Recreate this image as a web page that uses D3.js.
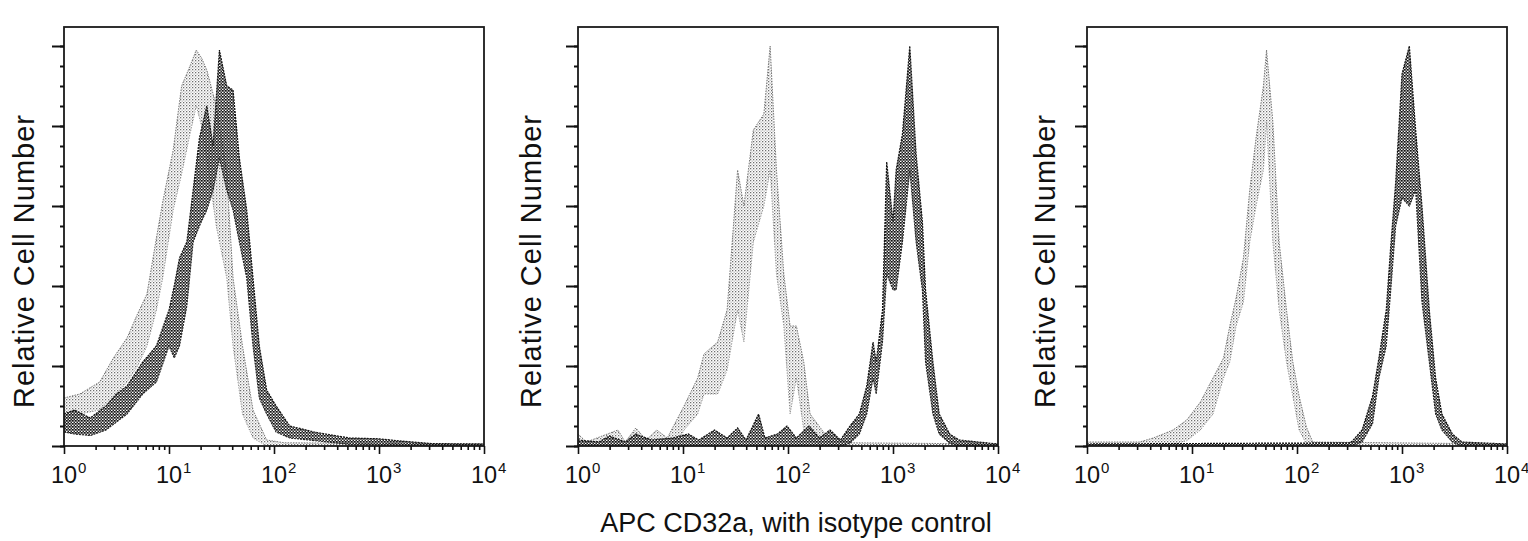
<!DOCTYPE html>
<html>
<head>
<meta charset="utf-8">
<script src="https://cdn.jsdelivr.net/npm/d3@7"></script>
<style>
  html, body { margin: 0; padding: 0; background: #fff; }
  svg { display: block; }
  text { font-family: "Liberation Sans", Arial, Helvetica, sans-serif; fill: #111; }
</style>
</head>
<body>
<svg id="chart" width="1528" height="541"></svg>
<script>
// ---------------- DATA (x = log10 fluorescence, lo/hi = band of relative cell number, 0-100) -------------
const decadeExponents = [0, 1, 2, 3, 4];
const decadeLabels = ["10", "10", "10", "10", "10"];
const superscripts = ["0", "1", "2", "3", "4"];
const yTickValues = [0, 20, 40, 60, 80, 100];
const yLabel = "Relative Cell Number";
const xTitle = "APC CD32a, with isotype control";

// Panel 1
const p1Isotype = [
  [0.00, 5, 12], [0.15, 8, 13], [0.34, 9, 16], [0.47, 12, 22], [0.60, 16, 27], [0.70, 20, 33],
  [0.79, 25, 38], [0.88, 34, 52], [0.94, 42, 61], [1.04, 59, 74], [1.12, 68, 90], [1.20, 78, 95],
  [1.26, 85, 99], [1.31, 80, 97], [1.36, 72, 94], [1.45, 55, 85], [1.55, 42, 68], [1.61, 25, 42],
  [1.70, 8, 25], [1.80, 2, 9], [1.93, 0, 1.5], [2.10, 0, 0.8], [4.00, 0, 0.5]
];
const p1Stained = [
  [0.00, 3.5, 8], [0.10, 3, 9], [0.25, 2.6, 7], [0.40, 4, 10], [0.50, 6, 13], [0.60, 8, 15],
  [0.75, 13, 21], [0.88, 16, 25], [1.00, 25, 34], [1.05, 22, 40], [1.10, 25, 47], [1.17, 35, 51],
  [1.23, 51, 64], [1.29, 55, 77], [1.36, 59, 85], [1.42, 64, 75], [1.48, 72, 99], [1.55, 64, 90],
  [1.61, 59, 89], [1.67, 51, 72], [1.74, 42, 59], [1.80, 25, 42], [1.86, 12, 25], [1.93, 8, 14],
  [2.02, 3.5, 10], [2.15, 2, 5], [2.40, 1.3, 3.4], [2.72, 0.4, 2], [3.00, 0.2, 1.8], [3.19, 0, 1.3],
  [3.50, 0, 0.6], [4.00, 0, 0.5]
];

// Panel 2
const p2Isotype = [
  [0.00, 0, 3], [0.08, 0, 1], [0.38, 0, 4], [0.45, 0, 1], [0.55, 0, 4.5], [0.65, 0, 1.5],
  [0.75, 0, 4], [0.85, 0, 2], [0.95, 1, 7], [1.01, 4, 10], [1.14, 8, 17], [1.20, 13, 23],
  [1.33, 13, 26], [1.42, 19, 34], [1.52, 34, 69], [1.58, 26, 60], [1.67, 51, 79], [1.77, 60, 83],
  [1.83, 69, 100], [1.89, 43, 69], [1.96, 30, 43], [2.02, 8, 30], [2.08, 17, 30], [2.15, 4, 21],
  [2.21, 1.5, 8], [2.37, 0, 2.4], [2.60, 0, 0.8], [4.00, 0, 0.5]
];
const p2Stained = [
  [0.00, 0, 1.5], [0.20, 0, 1], [0.30, 0, 2.5], [0.45, 0, 1], [0.55, 0, 3], [0.70, 0, 1.5],
  [0.90, 0, 2], [1.05, 0, 3], [1.15, 0, 1.5], [1.30, 0, 4], [1.42, 0, 2], [1.52, 0, 4.5],
  [1.60, 0, 1.5], [1.72, 0, 8], [1.78, 0, 2], [1.90, 0, 3], [1.99, 0, 5], [2.08, 0, 2],
  [2.20, 0, 5], [2.30, 0, 2], [2.40, 0, 4], [2.50, 0, 1.5], [2.59, 0.7, 5], [2.68, 3, 8],
  [2.75, 8, 15], [2.81, 17, 26], [2.84, 13, 21], [2.90, 26, 34], [2.94, 43, 71], [3.00, 39, 56],
  [3.03, 39, 69], [3.09, 51, 78], [3.16, 69, 100], [3.22, 51, 73], [3.28, 39, 56], [3.31, 21, 39],
  [3.38, 8, 21], [3.44, 3, 8], [3.54, 0.7, 3], [3.63, 0, 1.5], [4.00, 0, 0.5]
];

// Panel 3
const p3Isotype = [
  [0.00, 0, 1], [0.50, 0, 1], [0.63, 0, 2], [0.82, 0.5, 4], [0.95, 1.3, 6.5], [1.08, 4, 11],
  [1.20, 8, 17], [1.30, 17, 22], [1.36, 21, 30], [1.42, 30, 37], [1.49, 36, 47], [1.55, 51, 64],
  [1.61, 60, 77], [1.68, 69, 90], [1.71, 81, 99], [1.77, 51, 81], [1.83, 34, 51], [1.90, 21, 34],
  [1.96, 12.5, 21], [2.02, 4, 12.5], [2.09, 0.5, 4.7], [2.15, 0, 1], [4.00, 0, 0.5]
];
const p3Stained = [
  [0.00, 0, 0.5], [2.50, 0, 0.8], [2.53, 0, 1.3], [2.62, 1, 4], [2.72, 5.6, 12.5], [2.78, 17, 22],
  [2.85, 25, 34], [2.89, 38, 49], [2.94, 55, 66], [3.00, 62, 93], [3.07, 60, 100], [3.13, 64, 79],
  [3.19, 36, 60], [3.26, 21, 34], [3.32, 8, 17], [3.38, 4, 8], [3.48, 1, 3], [3.57, 0, 1],
  [4.00, 0, 0.5]
];

const panels = [
  { isotype: p1Isotype, stained: p1Stained, left: 64,   labelX: 34 },
  { isotype: p2Isotype, stained: p2Stained, left: 578,  labelX: 541 },
  { isotype: p3Isotype, stained: p3Stained, left: 1087, labelX: 1055 }
];

// ---------------- LAYOUT ----------------
const plotW = 420, plotTop = 27, plotBottom = 446, yTopValueY = 46;

const svg = d3.select("#chart");
const defs = svg.append("defs");

// speckle patterns
const pDark = defs.append("pattern").attr("id", "speckDark")
  .attr("patternUnits", "userSpaceOnUse").attr("width", 3).attr("height", 3);
pDark.append("rect").attr("x", 0).attr("y", 0).attr("width", 1.7).attr("height", 1.7).attr("fill", "#111");
pDark.append("rect").attr("x", 1.5).attr("y", 1.5).attr("width", 1.5).attr("height", 1.5).attr("fill", "#222");
pDark.append("rect").attr("x", 1.8).attr("y", 0.2).attr("width", 0.9).attr("height", 0.9).attr("fill", "#444");

const pGray = defs.append("pattern").attr("id", "speckGray")
  .attr("patternUnits", "userSpaceOnUse").attr("width", 3).attr("height", 3);
pGray.append("rect").attr("x", 0).attr("y", 0).attr("width", 1.3).attr("height", 1.3).attr("fill", "#6e6e6e");
pGray.append("rect").attr("x", 1.6).attr("y", 1.6).attr("width", 1.1).attr("height", 1.1).attr("fill", "#9a9a9a");

panels.forEach((p, i) => {
  const x = d3.scaleLog().domain([1, 1e4]).range([p.left, p.left + plotW]);
  const y = d3.scaleLinear().domain([0, 100]).range([plotBottom, yTopValueY]);
  const g = svg.append("g");

  const clipId = "clip" + i;
  defs.append("clipPath").attr("id", clipId)
    .append("rect").attr("x", p.left).attr("y", plotTop).attr("width", plotW).attr("height", plotBottom - plotTop);

  const area = d3.area()
    .x(d => x(Math.pow(10, d[0])))
    .y0(d => y(d[1]))
    .y1(d => y(d[2]));
  const lineHi = d3.line().x(d => x(Math.pow(10, d[0]))).y(d => y(d[2]));
  const lineLo = d3.line().x(d => x(Math.pow(10, d[0]))).y(d => y(d[1]));

  const data = g.append("g").attr("clip-path", `url(#${clipId})`);

  // isotype control (gray)
  data.append("path").attr("d", area(p.isotype)).attr("fill", "url(#speckGray)");
  data.append("path").attr("d", lineHi(p.isotype)).attr("fill", "none")
    .attr("stroke", "#777").attr("stroke-width", 1).attr("stroke-dasharray", "1.5 1.2");
  data.append("path").attr("d", lineLo(p.isotype)).attr("fill", "none")
    .attr("stroke", "#888").attr("stroke-width", 0.9).attr("stroke-dasharray", "1.2 1.5");

  // stained (dark)
  data.append("path").attr("d", area(p.stained)).attr("fill", "url(#speckDark)");
  data.append("path").attr("d", lineHi(p.stained)).attr("fill", "none")
    .attr("stroke", "#111").attr("stroke-width", 1.2).attr("stroke-dasharray", "2 1");
  data.append("path").attr("d", lineLo(p.stained)).attr("fill", "none")
    .attr("stroke", "#222").attr("stroke-width", 1.1).attr("stroke-dasharray", "2 1");

  // frame
  g.append("rect")
    .attr("x", p.left).attr("y", plotTop)
    .attr("width", plotW).attr("height", plotBottom - plotTop)
    .attr("fill", "none").attr("stroke", "#1a1a1a").attr("stroke-width", 1.8);

  // y axis ticks (left, outward)
  const yMinor = d3.range(0, 101, 5);
  const yAxisMinor = d3.axisLeft(y).tickValues(yMinor).tickSize(4).tickFormat("");
  const yAxisMajor = d3.axisLeft(y).tickValues(yTickValues).tickSize(12).tickFormat("");
  [yAxisMinor, yAxisMajor].forEach(ax => {
    const a = g.append("g").attr("transform", `translate(${p.left},0)`).call(ax);
    a.select(".domain").remove();
    a.selectAll("line").attr("stroke", "#111").attr("stroke-width", 2);
  });

  // x axis ticks (down)
  const minorVals = [];
  for (let dd = 0; dd < 4; dd++) for (let m = 2; m <= 9; m++) minorVals.push(m * Math.pow(10, dd));
  const xAxisMinor = d3.axisBottom(x).tickValues(minorVals).tickSize(4).tickFormat("");
  const xAxisMajor = d3.axisBottom(x).tickValues(decadeExponents.map(e => Math.pow(10, e))).tickSize(8).tickFormat("");
  [xAxisMinor, xAxisMajor].forEach(ax => {
    const a = g.append("g").attr("transform", `translate(0,${plotBottom})`).call(ax);
    a.select(".domain").remove();
    a.selectAll("line").attr("stroke", "#111").attr("stroke-width", 1.6);
  });

  // x tick labels: 10 with superscript
  decadeExponents.forEach((e, k) => {
    const tx = x(Math.pow(10, e));
    g.append("text").attr("x", tx).attr("y", 483)
      .attr("text-anchor", "middle").attr("font-size", 23.5).text(decadeLabels[k]);
    g.append("text").attr("x", tx + 14).attr("y", 473)
      .attr("text-anchor", "start").attr("font-size", 15).text(superscripts[k]);
  });

  // y label
  g.append("text")
    .attr("transform", `translate(${p.labelX},261) rotate(-90)`)
    .attr("text-anchor", "middle")
    .attr("font-size", 29)
    .attr("letter-spacing", 1)
    .text(yLabel);
});

// x title (shared, under the middle panel)
svg.append("text")
  .attr("x", 796).attr("y", 532)
  .attr("text-anchor", "middle")
  .attr("font-size", 27)
  .text(xTitle);
</script>
</body>
</html>
